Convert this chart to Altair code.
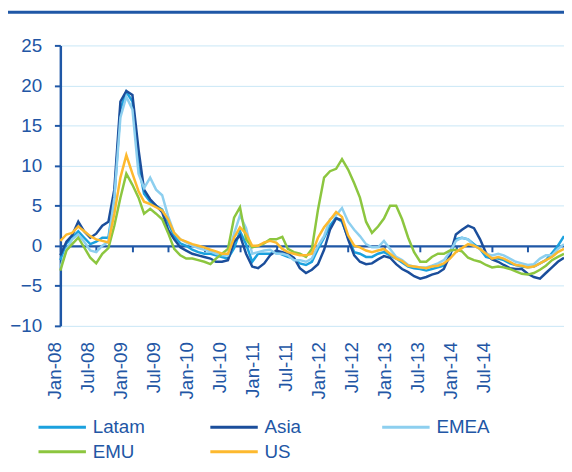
import altair as alt
import pandas as pd

# ---------------- data (monthly readings, Jan-08 .. Jan-15) ----------------
series_names = ["Latam", "Asia", "EMEA", "EMU", "US"]
series_colors = ["#1BA1DE", "#1B4E9B", "#8DCFEF", "#8CC63F", "#FDB92E"]

latam = [-1.8, 0.3, 1.0, 1.8, 1.0, 0.2, 0.5, 1.0, 1.0, 6.0,
         17.0, 19.2, 18.0, 10.0, 6.5, 5.5, 5.0, 4.5, 2.9, 1.2,
         0.3, 0.0, -0.5, -0.8, -1.0, -1.0, -1.2, -1.4, -1.6, -0.3,
         1.8, 0.2, -2.0, -1.0, -1.0, -1.0, -0.8, -1.1, -1.4, -1.6,
         -2.2, -2.4, -2.0, -0.4, 1.0, 2.5, 3.5, 3.0, 1.0, -0.8,
         -1.0, -1.4, -1.4, -1.0, -0.8, -1.2, -1.6, -2.1, -2.6, -2.8,
         -2.9, -3.1, -2.9, -2.7, -2.5, -1.2, 0.8, 1.0, 0.8, 0.2,
         -0.4, -1.4, -1.6, -1.6, -1.8, -2.2, -2.4, -2.6, -2.7, -2.6,
         -2.2, -1.8, -0.9, 0.0, 1.2]

asia = [-1.2, 0.5, 1.3, 3.0, 1.8, 1.0, 1.5, 2.5, 3.0, 7.0,
        18.0, 19.3, 18.8, 12.0, 7.0, 5.8, 5.0, 4.2, 2.0, 0.8,
        -0.2, -0.6, -1.0, -1.2, -1.4, -1.6, -2.0, -2.0, -1.8, 0.5,
        1.3, -1.0, -2.6, -2.8, -2.2, -1.2, -0.6, -0.8, -1.0, -1.5,
        -2.8, -3.4, -3.0, -2.3, -0.5, 2.0, 3.4, 3.2, 0.8, -1.2,
        -2.0, -2.3, -2.2, -1.7, -1.3, -1.5, -2.3, -2.9, -3.3, -3.8,
        -4.1, -3.9, -3.6, -3.4, -2.9, -1.2, 1.4, 2.0, 2.5, 2.2,
        0.8, -0.9, -1.7, -2.0, -2.4, -2.8, -2.9, -2.9, -3.5, -3.9,
        -4.1, -3.4, -2.7, -2.0, -1.5]

emea = [-2.7, -0.5, 0.8, 1.4, 0.5, -0.6, -0.8, 0.0, 0.5, 6.0,
        16.0, 18.6, 17.0, 9.0, 7.2, 8.5, 7.0, 6.3, 3.7, 1.6,
        0.8, 0.4, 0.0, -0.3, -0.5, -0.7, -1.0, -1.2, -1.2, 1.5,
        3.8, 2.2, -1.0, -0.8, -0.6, -0.5, -1.0, -1.0, -1.2, -1.8,
        -1.8, -2.0, -1.6, 0.0, 1.2, 3.3, 3.8, 4.7, 3.0, 2.0,
        1.2, 0.2, -0.2, -0.2, 0.6, -0.4, -1.4, -1.8, -2.4, -2.6,
        -2.7, -2.7, -2.5, -2.2, -1.8, -0.8, 0.6, 1.0, 0.8, 0.0,
        -0.4, -1.0, -1.2, -1.0, -1.2, -1.6, -2.0, -2.2, -2.4, -2.3,
        -1.6, -1.2, -1.2, -0.4, 0.2]

emu = [-3.1, -0.6, 0.2, 1.0, -0.2, -1.5, -2.2, -1.0, -0.3, 2.5,
       6.0, 9.0, 7.6, 6.0, 4.0, 4.6, 4.0, 3.3, 1.6, -0.4,
       -1.2, -1.6, -1.6, -1.8, -2.0, -2.3, -1.6, -1.0, -0.4, 3.5,
       4.8, 0.8, -0.2, 0.0, 0.3, 0.8, 0.8, 1.1, -0.4, -0.8,
       -1.0, -1.4, -0.4, 4.5, 8.5, 9.3, 9.6, 10.8, 9.5, 7.8,
       6.0, 3.0, 1.6, 2.4, 3.4, 5.0, 5.0, 3.3, 1.0, -0.8,
       -2.0, -2.0, -1.4, -1.0, -1.0, -0.6, -0.5, -0.7, -1.5, -1.8,
       -2.0, -2.4, -2.7, -2.6, -2.7, -2.9, -3.2, -3.5, -3.6, -3.4,
       -3.0, -2.5, -1.8, -1.4, -1.0]

us = [0.6, 1.4, 1.6, 2.4, 1.8, 1.2, 0.8, 0.6, 0.4, 4.0,
      8.5, 11.3, 9.0, 6.8, 5.5, 5.2, 4.8, 4.4, 3.3, 1.6,
      0.8, 0.5, 0.2, 0.0, -0.2, -0.5, -0.7, -1.0, -1.0, 1.0,
      2.3, 1.5, 0.0, 0.0, 0.4, 0.6, 0.4, -0.4, -0.8, -1.0,
      -1.2, -1.2, -1.0, 1.0, 2.3, 3.2, 4.2, 3.6, 1.3, 0.0,
      -0.2, -0.6, -0.8, -0.6, -0.4, -1.0, -1.6, -1.9, -2.5, -2.6,
      -2.7, -2.8, -2.6, -2.5, -2.2, -1.6, -0.8, -0.3, 0.2, 0.0,
      -0.4, -1.0, -1.6, -1.4, -1.6, -2.0, -2.4, -2.5, -2.7, -2.6,
      -2.2, -1.8, -1.4, -0.8, -0.4]

tick_labels = ["Jan-08", "Jul-08", "Jan-09", "Jul-09", "Jan-10", "Jul-10", "Jan-11",
               "Jul-11", "Jan-12", "Jul-12", "Jan-13", "Jul-13", "Jan-14", "Jul-14"]
y_ticks = [-10, -5, 0, 5, 10, 15, 20, 25]

# ---------------- tables ----------------
months = pd.date_range("2008-01-01", periods=85, freq="MS")
rows = []
for name, vals in zip(series_names, [latam, asia, emea, emu, us]):
    for d, v in zip(months, vals):
        rows.append({"date": d, "series": name, "value": v})
df = pd.DataFrame(rows)

label_dates = pd.to_datetime(tick_labels, format="%b-%y")
lab_df = pd.DataFrame({"date": label_dates})


def dt(ts):
    ts = pd.Timestamp(ts)
    return alt.DateTime(year=ts.year, month=ts.month, date=ts.day)


AXIS_BLUE = "#1F57A6"
TEXT_BLUE = "#2256A5"
GRID = "#C8E7F6"
FONT = "Liberation Sans"

top_rule = alt.Chart(pd.DataFrame({"k": [0]})).mark_rule(
    color=AXIS_BLUE, strokeWidth=3
).encode(x=alt.value(-53), x2=alt.value(510), y=alt.value(-33.5))

lines = alt.Chart(df).mark_line(strokeWidth=2.5).encode(
    x=alt.X("date:T",
            scale=alt.Scale(domain=[dt("2008-01-01"), dt("2015-01-01")]),
            axis=alt.Axis(orient="bottom", values=[dt(t) for t in label_dates],
                          labels=False, title=None, grid=False, offset=-81,
                          domainColor=AXIS_BLUE, domainWidth=2.5,
                          tickColor=AXIS_BLUE, tickWidth=2, tickSize=6)),
    y=alt.Y("value:Q",
            scale=alt.Scale(domain=[-10, 25], nice=False),
            axis=alt.Axis(values=y_ticks, title=None, grid=True, gridColor=GRID,
                          gridWidth=1, domainColor=AXIS_BLUE, domainWidth=2.5,
                          tickColor=AXIS_BLUE, tickWidth=2, tickSize=6,
                          labelFontSize=19, labelColor=TEXT_BLUE, labelFont=FONT,
                          labelPadding=13)),
    color=alt.Color("series:N",
                    scale=alt.Scale(domain=series_names, range=series_colors),
                    legend=alt.Legend(title=None, orient="none", legendX=-9.6,
                                      legendY=375, columns=3, columnPadding=58,
                                      rowPadding=3, direction="horizontal",
                                      symbolType="M-2.5,0H2.5",
                                      symbolSize=369, symbolStrokeWidth=3,
                                      labelFontSize=19, labelFont=FONT,
                                      labelColor=TEXT_BLUE, labelOffset=19.4,
                                      gridAlign="all", padding=0, labelLimit=200)),
)

labels = alt.Chart(lab_df).mark_rule(opacity=0).encode(
    x=alt.X("date:T",
            scale=alt.Scale(domain=[dt("2008-01-01"), dt("2015-08-19")]),
            axis=alt.Axis(orient="bottom", values=[dt(t) for t in label_dates],
                          format="%b-%y", labelAngle=-90, labelFontSize=19,
                          labelFont=FONT, labelColor=TEXT_BLUE, domain=False,
                          ticks=False, tickSize=0, grid=False, title=None,
                          labelPadding=16, labelOffset=-6))
)

chart = alt.layer(top_rule, lines, labels).resolve_scale(x="independent").properties(
    width=510, height=284,
    autosize=alt.AutoSizeParams(type="none"),
    padding={"left": 53, "top": 35, "right": 0, "bottom": 137},
).configure_view(stroke=None)

chart.save("out.html", embed_options={"renderer": "svg", "actions": False})
